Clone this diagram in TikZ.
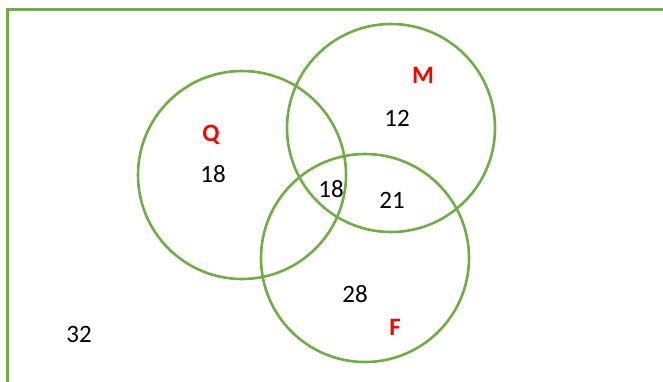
\documentclass[tikz,border=0pt]{standalone}
\usepackage{fontspec}
\setmainfont{Carlito}
\usepackage{tikz}
\definecolor{setgreen}{HTML}{70AD47}
\tikzset{
  setcircle/.style={draw=setgreen,line width=2.6pt,circle,minimum size=208pt,inner sep=0pt},
  setname/.style={text=red,font=\fontsize{25}{30}\selectfont\bfseries},
  count/.style={text=black,font=\fontsize{25}{30}\selectfont}
}
\begin{document}
\begin{tikzpicture}[x=1pt,y=-1pt]
        \useasboundingbox (0,0) rectangle (663,381);
        \clip (0,0) rectangle (663,381);
        \draw [color=setgreen,line width=3.5pt] (7.5,9.5) rectangle (700,420);
        \node[setcircle] (Q) at (242,175) {};
        \node[setcircle] (M) at (391,128) {};
        \node[setcircle] (F) at (365,258) {};
        \node[setname] (Qlab) at (211,135) {Q};
        \node[setname] (Mlab) at (423,75) {M};
        \node[setname] (Flab) at (395,327) {F};
        \node[count] (nQ) at (213,174) {18};
        \node[count] (nM) at (397,118) {12};
        \node[count] (nQF) at (331,189) {18};
        \node[count] (nMF) at (392,200) {21};
        \node[count] (nF) at (355,294) {28};
        \node[count] (nout) at (79,334) {32};
    \end{tikzpicture}
\end{document}
